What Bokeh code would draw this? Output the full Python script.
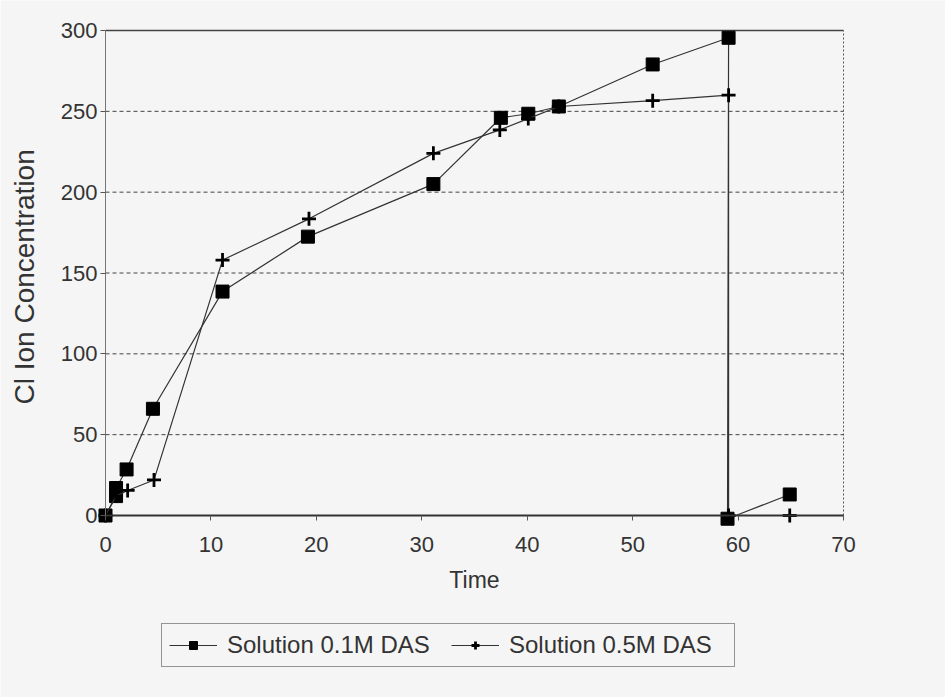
from bokeh.plotting import figure
from bokeh.models import Range1d, Legend, LegendItem, FixedTicker
from bokeh.embed import file_html
from bokeh.resources import INLINE

# Data
time_01 = [0, 1, 1, 2, 4.5, 11.1, 19.2, 31.1, 37.5, 40.1, 43.0, 51.9, 59.1, 59.0, 64.9]
conc_01 = [0, 12, 17, 28.5, 66, 138.5, 172.5, 205, 246, 248.5, 253, 279, 295.5, -2, 13]
time_05 = [0, 1, 2.1, 4.6, 11.1, 19.3, 31.1, 37.4, 40.1, 43.0, 51.9, 59.1, 59.1, 62.0, 64.9]
conc_05 = [0, 12, 15.5, 22, 158, 183.5, 224, 238.5, 245.5, 253, 256.6, 260, 0, 0, 0]
label_01 = "Solution 0.1M DAS"
label_05 = "Solution 0.5M DAS"
x_ticks = [0, 10, 20, 30, 40, 50, 60, 70]
y_ticks = [0, 50, 100, 150, 200, 250, 300]

BG = "#f5f5f5"
FONT = "Liberation Sans"
W, H = 945, 697
# plot area in canvas pixels
PL, PR, PT, PB = 105, 843, 30, 515
xs = (PR - PL) / (x_ticks[-1] - x_ticks[0])
ys = (PB - PT) / (y_ticks[-1] - y_ticks[0])

p = figure(width=W, height=H, output_backend="svg", toolbar_location=None,
           x_range=Range1d(x_ticks[0] - PL / xs, x_ticks[-1] + (W - PR) / xs),
           y_range=Range1d(y_ticks[0] - (H - PB) / ys, y_ticks[-1] + PT / ys),
           min_border_left=0, min_border_right=0, min_border_top=0, min_border_bottom=0)
p.background_fill_color = BG
p.border_fill_color = BG
p.outline_line_color = None
p.xgrid.visible = False
p.ygrid.visible = False

# axes drawn at the data origin
p.xaxis.fixed_location = y_ticks[0]
p.yaxis.fixed_location = x_ticks[0]
p.xaxis.bounds = (x_ticks[0], x_ticks[-1])
p.yaxis.bounds = (y_ticks[0], y_ticks[-1])
p.xaxis.ticker = FixedTicker(ticks=x_ticks)
p.yaxis.ticker = FixedTicker(ticks=y_ticks)
p.xaxis.axis_label = "Time"
p.yaxis.axis_label = "Cl  Ion Concentration"
for ax in (p.xaxis, p.yaxis):
    ax.major_label_text_font = FONT
    ax.major_label_text_font_size = "22px"
    ax.major_label_text_color = "#333333"
    ax.axis_label_text_font = FONT
    ax.axis_label_text_font_style = "normal"
    ax.axis_label_text_color = "#333333"
    ax.minor_tick_line_color = None
    ax.major_tick_in = 0
    ax.major_tick_out = 5
    ax.major_tick_line_color = "#555555"
p.xaxis.axis_line_color = "#333333"
p.xaxis.axis_line_width = 2
p.yaxis.axis_line_color = "#777777"
p.yaxis.axis_line_width = 1
p.xaxis.axis_label_text_font_size = "23px"
p.yaxis.axis_label_text_font_size = "28px"
p.xaxis.major_label_standoff = 16
p.yaxis.major_label_standoff = 3
p.xaxis.axis_label_standoff = 12
p.yaxis.axis_label_standoff = 18

# dashed horizontal grid lines between the axes
gy = y_ticks[1:-1]
p.segment(x0=[x_ticks[0]] * len(gy), y0=gy, x1=[x_ticks[-1]] * len(gy), y1=gy,
          line_color="#444444", line_width=1, line_dash="4 3")
# frame lines (top solid, right dotted)
p.segment(x0=[x_ticks[0]], y0=[y_ticks[-1]], x1=[x_ticks[-1]], y1=[y_ticks[-1]],
          line_color="#444444", line_width=1.5)
p.segment(x0=[x_ticks[-1]], y0=[y_ticks[0]], x1=[x_ticks[-1]], y1=[y_ticks[-1]],
          line_color="#555555", line_width=1, line_dash="2 2")

# series
l1 = p.line(time_01, conc_01, line_color="#333333", line_width=1.2)
m1 = p.scatter(time_01, conc_01, marker="square", size=13, fill_color="black", line_color="black")
l2 = p.line(time_05, conc_05, line_color="#333333", line_width=1.2)
m2 = p.scatter(time_05[:-2] + time_05[-1:], conc_05[:-2] + conc_05[-1:], marker="cross", size=14,
               line_color="black", line_width=2.8)

legend = Legend(items=[LegendItem(label=label_01, renderers=[l1, m1]),
                       LegendItem(label=label_05, renderers=[l2, m2])],
                orientation="horizontal", location=(161, 30),
                label_text_font=FONT, label_text_font_size="24px", label_text_color="#333333",
                glyph_width=48, glyph_height=20, label_standoff=10, label_width=218, spacing=6,
                padding=7, margin=0,
                border_line_color="#333333", border_line_width=1.5,
                background_fill_color=BG, background_fill_alpha=1)
p.add_layout(legend, "center")

open("out.html", "w").write(file_html(p, INLINE))
